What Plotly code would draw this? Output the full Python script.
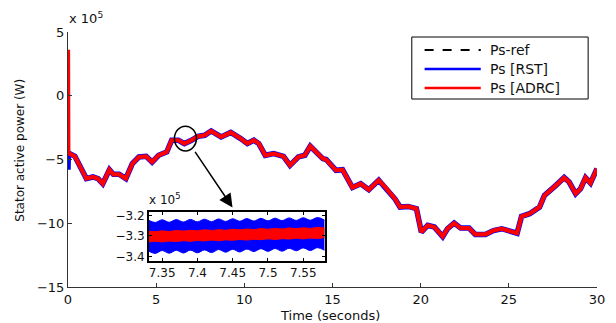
import plotly.graph_objects as go

# ---- main data (values in units of 1e5 W) ----
t_main = [0, 0.02, 0.39, 0.67, 1.04, 1.41, 1.7, 1.97, 2.35, 2.57, 2.9, 3.28, 3.65, 4.02, 4.43,
          4.77, 5.14, 5.6, 5.88, 6.26, 6.6, 7.0, 7.37, 7.75, 8.12, 8.68, 9.23, 9.79, 10.17,
          10.54, 10.82, 11.19, 11.66, 12.22, 12.59, 13.06, 13.43, 13.74, 14.08, 14.45, 14.64,
          15.2, 15.57, 16.13, 16.6, 17.06, 17.62, 17.99, 18.55, 18.83, 19.29, 19.76, 20.04,
          20.4, 20.78, 21.25, 21.52, 21.9, 22.27, 22.74, 23.1, 23.67, 24.13, 24.6, 25.07,
          25.47, 25.72, 26.18, 26.74, 27.02, 27.67, 28.14, 28.42, 28.79, 29.07, 29.35, 29.63, 30]
p_adrc = [3.6, -4.49, -4.75, -5.46, -6.5, -6.37, -6.5, -6.9, -5.8, -6.16, -6.16, -6.5, -5.32,
          -4.8, -4.75, -5.2, -4.67, -4.41, -3.49, -3.49, -3.75, -3.49, -3.18, -3.1, -2.76,
          -3.23, -2.88, -3.36, -3.75, -3.49, -3.75, -4.67, -4.54, -4.75, -5.46, -4.8, -4.67,
          -3.96, -4.41, -4.93, -5.0, -5.85, -5.8, -7.2, -6.9, -7.37, -6.63, -7.16, -8.1,
          -8.73, -8.68, -8.86, -10.7, -10.17, -10.3, -11.04, -10.43, -9.99, -10.38, -10.38,
          -10.88, -10.88, -10.57, -10.43, -10.62, -10.78, -9.47, -9.25, -8.73, -7.82, -7.03,
          -6.42, -6.77, -7.68, -7.29, -6.42, -6.85, -5.72]
p_rst = [-5.8] + p_adrc[1:]
p_ref = [-4.49] + p_adrc[1:]

# ---- inset data (envelopes of the fast ripple, units of 1e5 W) ----
t_in = [7.33, 7.34, 7.35, 7.36, 7.37, 7.38, 7.39, 7.40, 7.41, 7.42, 7.43, 7.44, 7.45,
        7.46, 7.47, 7.48, 7.49, 7.50, 7.51, 7.52, 7.53, 7.54, 7.55, 7.56, 7.57, 7.58]
rst_hi = [-3.222, -3.234, -3.221, -3.233, -3.220, -3.232, -3.219, -3.231, -3.218, -3.230,
          -3.217, -3.229, -3.216, -3.228, -3.215, -3.227, -3.214, -3.226, -3.213, -3.225,
          -3.212, -3.224, -3.211, -3.223, -3.210, -3.222]
rst_lo = [-3.372, -3.385, -3.371, -3.384, -3.370, -3.383, -3.369, -3.382, -3.368, -3.381,
          -3.366, -3.379, -3.365, -3.378, -3.364, -3.376, -3.362, -3.375, -3.361, -3.374,
          -3.360, -3.372, -3.358, -3.371, -3.357, -3.369]
adrc_hi = [-3.276, -3.279, -3.275, -3.278, -3.273, -3.276, -3.272, -3.275, -3.270, -3.273,
           -3.269, -3.272, -3.267, -3.270, -3.266, -3.269, -3.264, -3.267, -3.263, -3.266,
           -3.261, -3.264, -3.260, -3.263, -3.258, -3.261]
adrc_lo = [-3.330, -3.326, -3.329, -3.325, -3.327, -3.323, -3.326, -3.322, -3.324, -3.320,
           -3.323, -3.319, -3.321, -3.317, -3.320, -3.316, -3.318, -3.314, -3.317, -3.313,
           -3.315, -3.311, -3.314, -3.310, -3.312, -3.308]

x_ticks = [0, 5, 10, 15, 20, 25, 30]
y_ticks = [5, 0, -5, -10, -15]
in_x_ticks = [7.35, 7.4, 7.45, 7.5, 7.55]
in_x_labels = ["7.35", "7.4", "7.45", "7.5", "7.55"]
in_y_ticks = [-3.2, -3.3, -3.4]
legend_names = ["Ps-ref", "Ps [RST]", "Ps [ADRC]"]

FONT = "DejaVu Sans, Arial, sans-serif"
RED = "#ff0000"
BLUE = "#0000ff"
TXT = "#111"

fig = go.Figure()
fig.add_trace(go.Scatter(x=t_main, y=p_ref, mode="lines",
                         line=dict(color="black", width=2, dash="dash"), showlegend=False))
fig.add_trace(go.Scatter(x=t_main, y=p_rst, mode="lines",
                         line=dict(color=BLUE, width=5.5), showlegend=False))
fig.add_trace(go.Scatter(x=t_main, y=p_adrc, mode="lines",
                         line=dict(color=RED, width=4.2), showlegend=False))

# inset bands
fig.add_trace(go.Scatter(x=t_in, y=rst_lo, mode="lines", line=dict(color=BLUE, width=1, shape="spline"),
                         xaxis="x2", yaxis="y2", showlegend=False))
fig.add_trace(go.Scatter(x=t_in, y=rst_hi, mode="lines", line=dict(color=BLUE, width=1, shape="spline"),
                         fill="tonexty", fillcolor=BLUE, xaxis="x2", yaxis="y2", showlegend=False))
fig.add_trace(go.Scatter(x=t_in, y=adrc_lo, mode="lines", line=dict(color=RED, width=1, shape="spline"),
                         xaxis="x2", yaxis="y2", showlegend=False))
fig.add_trace(go.Scatter(x=t_in, y=adrc_hi, mode="lines", line=dict(color=RED, width=1, shape="spline"),
                         fill="tonexty", fillcolor=RED, xaxis="x2", yaxis="y2", showlegend=False))

W, H = 616, 323
L, R, T, B = 68, 11, 32, 36
pw, ph = W - L - R, H - T - B


def px(x):
    return (x - L) / pw


def py(y):
    return (H - B - y) / ph


def axis_style(size, lc="#333", lw=1):
    return dict(showgrid=False, zeroline=False, showline=True, linecolor=lc,
                linewidth=lw, ticks="inside", tickcolor=lc,
                tickfont=dict(family=FONT, size=size, color=TXT))


fig.update_layout(
    width=W, height=H, margin=dict(l=L, r=R, t=T, b=B),
    paper_bgcolor="white", plot_bgcolor="white",
    xaxis=dict(range=[0, 30], tickvals=x_ticks, ticklen=4, **axis_style(13)),
    yaxis=dict(range=[-15, 5], tickvals=y_ticks, ticklen=4, **axis_style(13)),
    xaxis2=dict(domain=[px(150), px(329)], anchor="y2", range=[7.331, 7.581],
                tickvals=in_x_ticks, ticktext=in_x_labels, mirror="ticks", ticklen=3,
                **axis_style(12, "black", 1.5)),
    yaxis2=dict(domain=[py(261), py(212)], anchor="x2", range=[-3.422, -3.183],
                tickvals=in_y_ticks, mirror="ticks", ticklen=3,
                **axis_style(12, "black", 1.5)),
    showlegend=False,
)

ann = []
# axis titles
ann.append(dict(text="Time (seconds)", x=px(334), y=py(315), xref="paper", yref="paper",
                xanchor="center", yanchor="middle",
                showarrow=False, font=dict(family=FONT, size=13, color=TXT)))
ann.append(dict(text="Stator active power (W)", x=px(19), y=py(150), xref="paper", yref="paper",
                xanchor="center", yanchor="middle",
                textangle=-90, showarrow=False, font=dict(family=FONT, size=12, color=TXT)))
# scale notes
ann.append(dict(text="x 10<sup>5</sup>", x=px(67), y=py(28), xref="paper", yref="paper",
                xanchor="left", yanchor="bottom", showarrow=False,
                font=dict(family=FONT, size=13, color=TXT)))
ann.append(dict(text="x 10<sup>5</sup>", x=px(148), y=py(209), xref="paper", yref="paper",
                xanchor="left", yanchor="bottom", showarrow=False,
                font=dict(family=FONT, size=12, color=TXT)))
# arrow from circle to inset
ann.append(dict(x=9.33, y=-8.76, ax=7.15, ay=-4.28, xref="x", yref="y", axref="x", ayref="y",
                showarrow=True, arrowhead=2, arrowsize=1.8, arrowwidth=1.5, arrowcolor="black",
                text=""))

# manual legend
leg_y = [50, 69, 88]
leg_styles = [dict(color="black", width=2, dash="dash"), dict(color=BLUE, width=2.5),
              dict(color=RED, width=2.5)]
shapes = [dict(type="rect", xref="paper", yref="paper", x0=px(417), x1=px(596), y0=py(99), y1=py(37),
               line=dict(color="black", width=1), fillcolor="white", layer="above")]
for yy, st, name in zip(leg_y, leg_styles, legend_names):
    shapes.append(dict(type="line", xref="paper", yref="paper", x0=px(430), x1=px(487),
                       y0=py(yy), y1=py(yy), line=st, layer="above"))
    ann.append(dict(text=name, x=px(494), y=py(yy), xref="paper", yref="paper",
                    xanchor="left", yanchor="middle", showarrow=False,
                    font=dict(family=FONT, size=14, color=TXT)))

# circle marking the zoomed region
shapes.append(dict(type="circle", xref="x", yref="y", x0=6.66 - 0.625, x1=6.66 + 0.625,
                   y0=-3.36 - 0.97, y1=-3.36 + 0.97, line=dict(color="black", width=1.5)))

fig.update_layout(annotations=ann, shapes=shapes)
fig.write_html("out.html")
